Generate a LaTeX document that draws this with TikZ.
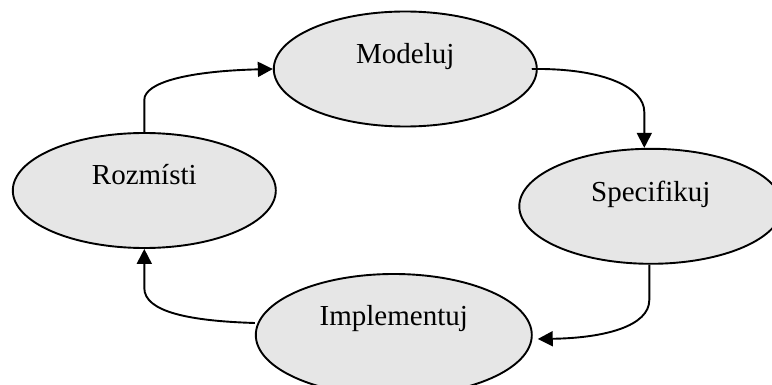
\documentclass[tikz,border=0pt]{standalone}
\usepackage{fontspec}
\setmainfont{Liberation Serif}
\usetikzlibrary{shapes.geometric,arrows.meta,calc}
\definecolor{phasefill}{RGB}{230,230,230}
\begin{document}
\begin{tikzpicture}[x=1pt,y=-1pt,
  phase/.style={ellipse,draw=black,line width=1.9pt,fill=phasefill,
    inner sep=0pt,minimum width=263pt,minimum height=115pt},
  phasetext/.style={anchor=base,inner sep=0pt,font=\fontsize{29}{34}\selectfont},
  flow/.style={line width=1.9pt,-{Triangle[length=15pt,width=15pt]}}]
\useasboundingbox (0,0) rectangle (772,385);

% phases of the cycle
\node[phase] (m) at (405.3,69) {};
\node[phase] (r) at (144.3,190.5) {};
\node[phase] (s) at (650.8,206.3) {};
\node[phase,minimum width=276pt,minimum height=122pt] (i) at (393.8,335) {};

% phase names
\node[phasetext] (mt) at (405.3,64) {Modeluj};
\node[phasetext] (rt) at (144.3,185) {Rozmísti};
\node[phasetext] (st) at (650.8,201.7) {Specifikuj};
\node[phasetext] (it) at (393.8,325) {Implementuj};

% transitions
\draw[flow] (r.north) -- (144.3,100)
  .. controls (144.3,82) and (190,71) .. (m.west);
\draw[flow] ([xshift=-6pt]m.east)
  .. controls (605,68) and (644.3,88) .. (644.3,112)
  -- ($(s.north)+(-6.5,0)$);
\draw[flow] ($(s.south)+(-1.5,0)$) -- (649.3,300)
  .. controls (649.3,326) and (605,338) .. ($(i.east)+(5,4)$);
\draw[flow] ($(i.west)+(0,-12)$)
  .. controls (190,321) and (144.3,312) .. (144.3,288)
  -- (r.south);
\end{tikzpicture}
\end{document}
